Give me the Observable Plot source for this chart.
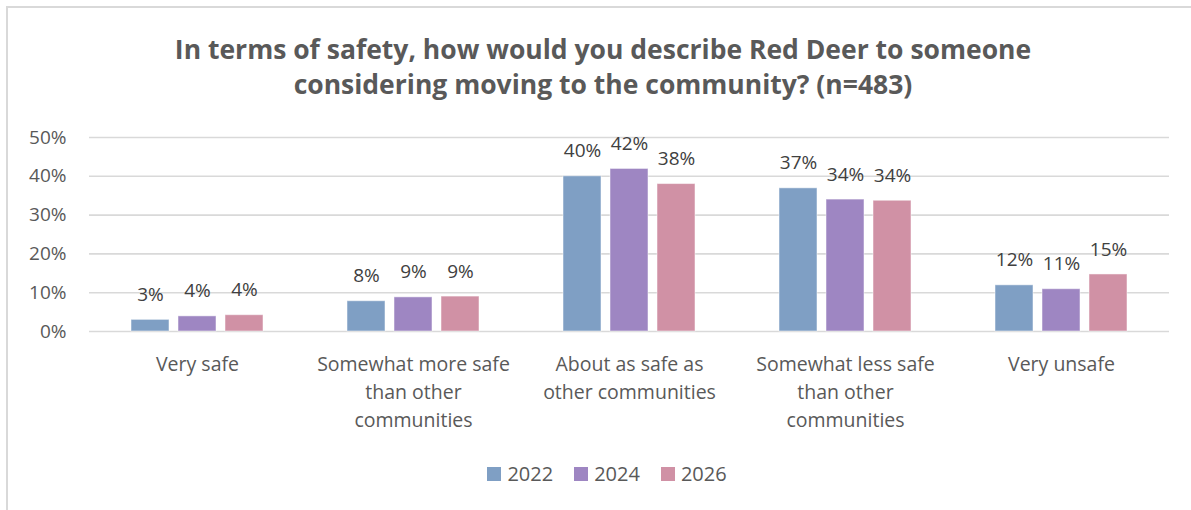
<!DOCTYPE html>
<html>
<head>
<meta charset="utf-8">
<script src="https://cdn.jsdelivr.net/npm/d3@7"></script>
<script src="https://cdn.jsdelivr.net/npm/@observablehq/plot@0.6"></script>
<style>
  html, body { margin: 0; padding: 0; background: #fff; }
  body { width: 1191px; height: 510px; overflow: hidden; position: relative; font-family: "Open Sans", sans-serif; }
  #frame { position: absolute; left: 6px; top: 6px; width: 1300px; height: 600px; border-left: 2px solid #d9d9d9; border-top: 2px solid #d9d9d9; box-sizing: border-box; }
  #title { position: absolute; left: 0; width: 1206px; top: 32px; text-align: center; font-weight: 700; font-size: 26.5px; line-height: 35px; color: #595959; }
  #chart { position: absolute; left: 0; top: 110px; }
  #legend { position: absolute; left: 0; width: 1214px; top: 460px; display: flex; justify-content: center; gap: 21px; font-size: 20px; color: #595959; }
  #legend span.item { display: flex; align-items: center; }
  #legend span.sw { display: inline-block; width: 14px; height: 14px; margin-right: 6px; }
</style>
</head>
<body>
<div id="frame"></div>
<div id="title">In terms of safety, how would you describe Red Deer to someone<br>considering moving to the community? (n=483)</div>
<div id="chart"></div>
<div id="legend"></div>
<script>
const categories = ["Very safe", "Somewhat more safe than other communities", "About as safe as other communities", "Somewhat less safe than other communities", "Very unsafe"];
const tickLabels = ["Very safe", "Somewhat more safe\nthan other\ncommunities", "About as safe as\nother communities", "Somewhat less safe\nthan other\ncommunities", "Very unsafe"];
const years = ["2022", "2024", "2026"];
const values2022 = [3.0, 7.8, 40.0, 36.9, 11.9];
const values2024 = [3.9, 8.8, 41.9, 34.0, 10.9];
const values2026 = [4.2, 9.0, 38.0, 33.7, 14.7];
const yTicks = [0, 10, 20, 30, 40, 50];
const colors = ["#7f9fc4", "#9e86c2", "#d091a5"];

const series = [values2022, values2024, values2026];
const data = [];
categories.forEach((c, i) => {
  years.forEach((y, j) => {
    data.push({category: c, year: y, value: series[j][i]});
  });
});

const chart = Plot.plot({
  width: 1191,
  height: 336,
  marginTop: 27,
  marginBottom: 115,
  marginLeft: 87,
  marginRight: 21,
  style: {fontFamily: "Open Sans, sans-serif", fontSize: "19px", color: "#595959", background: "transparent"},
  fx: {domain: categories, padding: 0, label: null, axis: null},
  x: {domain: years, paddingInner: 0.2, paddingOuter: 0.86, axis: null},
  y: {domain: [0, 50], label: null, axis: null},
  color: {domain: years, range: colors},
  marks: [
    Plot.gridY(yTicks, {stroke: "#d9d9d9", strokeOpacity: 1, strokeWidth: 1.6}),
    Plot.axisY(yTicks, {tickSize: 0, tickPadding: 23, tickFormat: d => d + "%", fontSize: 19, fill: "#595959", label: null}),
    Plot.axisFx({anchor: "bottom", tickSize: 0, tickPadding: 20, tickFormat: d => tickLabels[categories.indexOf(d)], fontSize: 19.5, lineHeight: 1.42, fill: "#595959", label: null}),
    Plot.barY(data, {fx: "category", x: "year", y: "value", fill: "year", stroke: "#ffffff", strokeOpacity: 0.5, strokeWidth: 1}),
    Plot.text(data, {fx: "category", x: "year", y: "value", text: d => Math.round(d.value) + "%", dy: -25, fontSize: 19, fill: "#404040"})
  ]
});
document.getElementById("chart").appendChild(chart);

const legend = document.getElementById("legend");
years.forEach((y, j) => {
  const item = document.createElement("span");
  item.className = "item";
  const sw = document.createElement("span");
  sw.className = "sw";
  sw.style.background = colors[j];
  item.appendChild(sw);
  item.appendChild(document.createTextNode(y));
  legend.appendChild(item);
});
</script>
</body>
</html>
